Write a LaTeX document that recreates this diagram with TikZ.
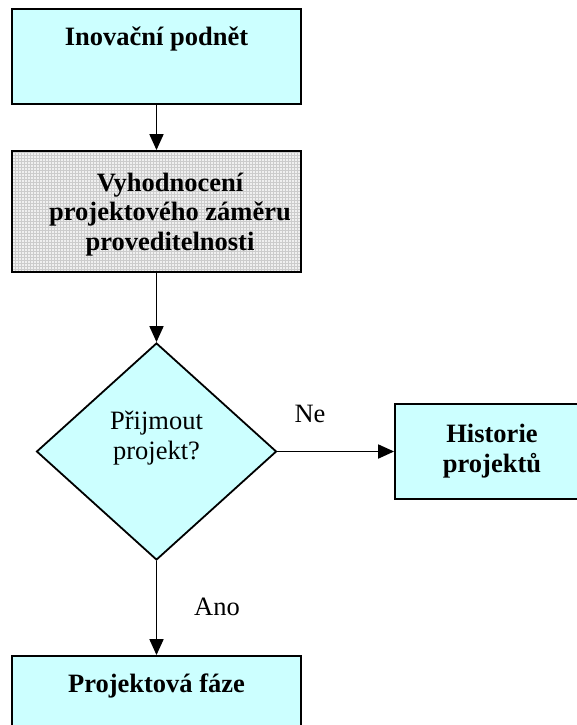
\documentclass[tikz,border=0pt]{standalone}
\usepackage{fontspec}
\setmainfont{Liberation Serif}
\usepackage{tikz}
\usetikzlibrary{shapes.geometric, patterns, arrows.meta}

\definecolor{azur}{HTML}{CCFFFF}

\begin{document}
\begin{tikzpicture}[x=1pt, y=-1pt,
  krok/.style={draw, line width=1.8pt, fill=azur, inner sep=0pt,
    font=\fontsize{26.5}{30}\selectfont\bfseries},
  sipka/.style={-{Triangle[length=16pt, width=14pt]}, line width=1.8pt},
  popis/.style={font=\fontsize{26.5}{30}\selectfont}]

\clip (0,0) rectangle (577,725);

\node[krok, minimum width=289pt, text height=37pt, text depth=58pt] (podnet) at (156.5,56.5) {Inovační podnět};

\node[krok, minimum width=289pt, minimum height=121pt,
  preaction={fill=gray!12}, fill=none, pattern=grid, pattern color=gray!40] (hodnoceni) at (156.5,211.5) {};
\node[font=\fontsize{26.5}{29.5}\selectfont\bfseries, align=center] (zamer) at (170,214.5)
  {Vyhodnocení\\projektového záměru\\proveditelnosti};

\node[diamond, draw, line width=1.8pt, fill=azur, inner sep=0pt, minimum width=240pt, minimum height=217pt] (rozhodnuti) at (156.5,451.5) {};
\node[popis, align=center] (otazka) at (156.5,438) {Přijmout\\projekt?};

\node[krok, minimum width=194pt, minimum height=95pt, align=center] (historie) at (492,451.5) {Historie\\projektů};

\node[krok, minimum width=289pt, text height=36pt, text depth=59pt] (faze) at (156.5,703.5) {Projektová fáze};


\draw[sipka] (podnet) -- (hodnoceni);
\draw[sipka] (hodnoceni) -- (rozhodnuti);
\draw[sipka] (rozhodnuti.east) -- (historie.west);
\draw[sipka] (rozhodnuti.south) -- (faze.north);

\node[popis] (ne) at (310,414) {Ne};
\node[popis] (ano) at (217,607) {Ano};

\end{tikzpicture}
\end{document}
